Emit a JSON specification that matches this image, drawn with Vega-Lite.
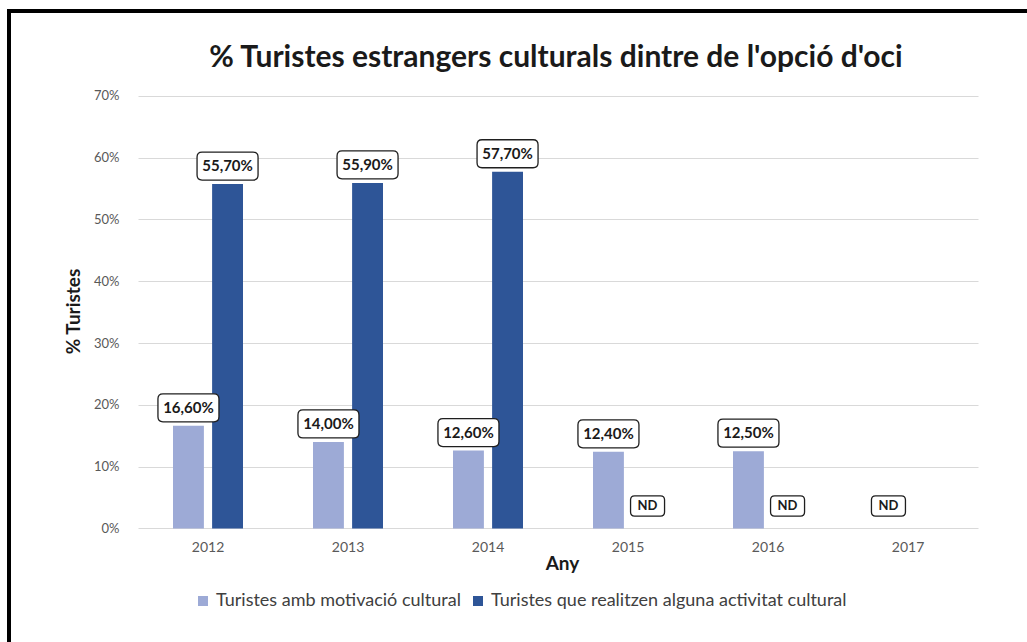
{
  "$schema": "https://vega.github.io/schema/vega-lite/v6.json",
  "autosize": "none",
  "width": 1018,
  "height": 631,
  "padding": {"left": 9, "top": 11, "right": 0, "bottom": 0},
  "background": "white",
  "config": {
    "locale": {"number": {"decimal": ",", "thousands": ".", "grouping": [3], "currency": ["", " €"]}},
    "view": {"stroke": "black", "strokeWidth": 4, "strokeDash": [1018, 1649, 631, 0], "strokeCap": "square"},
    "font": "Lato"
  },
  "title": {
    "text": "% Turistes estrangers culturals dintre de l'opció d'oci",
    "fontSize": 30,
    "fontWeight": "bold",
    "color": "#1a1a1a",
    "offset": -62,
    "dx": 38,
    "anchor": "middle",
    "font": "Lato"
  },
  "data": {
    "values": [
      {"year": "2012", "serie": "Turistes amb motivació cultural", "value": 0.166},
      {"year": "2012", "serie": "Turistes que realitzen alguna activitat cultural", "value": 0.557},
      {"year": "2013", "serie": "Turistes amb motivació cultural", "value": 0.14},
      {"year": "2013", "serie": "Turistes que realitzen alguna activitat cultural", "value": 0.559},
      {"year": "2014", "serie": "Turistes amb motivació cultural", "value": 0.126},
      {"year": "2014", "serie": "Turistes que realitzen alguna activitat cultural", "value": 0.577},
      {"year": "2015", "serie": "Turistes amb motivació cultural", "value": 0.124},
      {"year": "2015", "serie": "Turistes que realitzen alguna activitat cultural", "value": null},
      {"year": "2016", "serie": "Turistes amb motivació cultural", "value": 0.125},
      {"year": "2016", "serie": "Turistes que realitzen alguna activitat cultural", "value": null},
      {"year": "2017", "serie": "Turistes amb motivació cultural", "value": null}
    ]
  },
  "layer": [
    {
      "mark": {"type": "bar"},
      "encoding": {
        "x": {
          "field": "year", "type": "nominal",
          "scale": {"domain": ["2012", "2013", "2014", "2015", "2016", "2017"], "paddingInner": 0.5, "paddingOuter": 0.8857, "align": 0.6613, "round": false},
          "axis": {
            "orient": "bottom", "offset": -113.5, "domain": false, "ticks": false, "grid": false,
            "labelPadding": 12, "labelFontSize": 14, "labelColor": "#595959", "labelAngle": 0,
            "title": "Any", "titleFontSize": 19, "titleFontWeight": "bold", "titleColor": "#1a1a1a",
            "titleX": 553, "titleY": 35, "titleBaseline": "middle", "titleAlign": "center"
          }
        },
        "xOffset": {"field": "serie", "type": "nominal", "scale": {"domain": ["Turistes amb motivació cultural", "Turistes que realitzen alguna activitat cultural"], "paddingInner": 0.21, "paddingOuter": 0}},
        "y": {
          "field": "value", "type": "quantitative",
          "scale": {"domain": [-0.1836, 0.837], "nice": false, "zero": false},
          "axis": {
            "orient": "left", "offset": -112, "values": [0, 0.1, 0.2, 0.3, 0.4, 0.5, 0.6, 0.7],
            "format": ".0%", "domain": false, "ticks": false,
            "grid": true, "gridColor": "#d9d9d9", "gridWidth": 1, "gridDash": [0, 129, 840, 100],
            "labelPadding": 2, "labelFontSize": 13, "labelColor": "#595959",
            "title": "% Turistes", "titleFontSize": 19, "titleFontWeight": "bold", "titleColor": "#1a1a1a",
            "titleY": 300, "titlePadding": 10
          }
        },
        "color": {
          "field": "serie", "type": "nominal",
          "scale": {"domain": ["Turistes amb motivació cultural", "Turistes que realitzen alguna activitat cultural"], "range": ["#9DAAD6", "#2E5597"]},
          "legend": {
            "orient": "none", "legendX": 185, "legendY": 581, "direction": "horizontal", "title": null,
            "symbolType": "square", "symbolSize": 100, "symbolStrokeWidth": 0, "labelLimit": 0,
            "labelFontSize": 18, "labelColor": "#404040", "columnPadding": 8, "labelOffset": 4
          }
        }
      }
    },
    {
      "transform": [{"filter": "datum.value != null"}],
      "mark": {
        "type": "point",
        "shape": "M-0.836,-0.459L0.836,-0.459Q1,-0.459 1,-0.295L1,0.295Q1,0.459 0.836,0.459L-0.836,0.459Q-1,0.459 -1,0.295L-1,-0.295Q-1,-0.459 -0.836,-0.459Z",
        "size": 3721, "filled": true, "color": "white", "stroke": "#1f1f1f", "strokeWidth": 1.3, "opacity": 1, "yOffset": -18
      },
      "encoding": {
        "x": {"field": "year", "type": "nominal"},
        "xOffset": {"field": "serie", "type": "nominal"},
        "y": {"field": "value", "type": "quantitative"}
      }
    },
    {
      "transform": [{"filter": "datum.value != null"}],
      "mark": {"type": "text", "yOffset": -18, "fontSize": 15, "fontWeight": "bold", "color": "#1a1a1a", "baseline": "middle", "align": "center"},
      "encoding": {
        "x": {"field": "year", "type": "nominal"},
        "xOffset": {"field": "serie", "type": "nominal"},
        "y": {"field": "value", "type": "quantitative"},
        "text": {"field": "value", "type": "quantitative", "format": ".2%"}
      }
    },
    {
      "transform": [{"filter": "datum.value == null"}],
      "mark": {
        "type": "point",
        "shape": "M-0.76,-0.6L0.76,-0.6Q1,-0.6 1,-0.36L1,0.36Q1,0.6 0.76,0.6L-0.76,0.6Q-1,0.6 -1,0.36L-1,-0.36Q-1,-0.6 -0.76,-0.6Z",
        "size": 1156, "filled": true, "color": "white", "stroke": "#1f1f1f", "strokeWidth": 1.3, "opacity": 1, "yOffset": -22.5
      },
      "encoding": {
        "x": {"field": "year", "type": "nominal"},
        "xOffset": {"field": "serie", "type": "nominal"},
        "y": {"datum": 0, "type": "quantitative"}
      }
    },
    {
      "transform": [{"filter": "datum.value == null"}],
      "mark": {"type": "text", "text": "ND", "yOffset": -22.5, "fontSize": 13, "fontWeight": "bold", "color": "#1a1a1a", "baseline": "middle", "align": "center"},
      "encoding": {
        "x": {"field": "year", "type": "nominal"},
        "xOffset": {"field": "serie", "type": "nominal"},
        "y": {"datum": 0, "type": "quantitative"}
      }
    }
  ]
}
